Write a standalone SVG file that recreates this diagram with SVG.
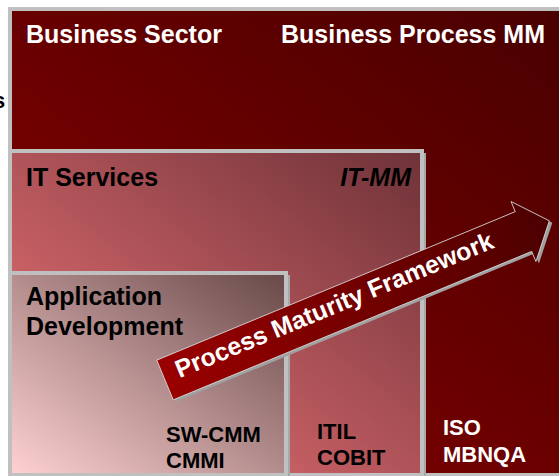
<svg xmlns="http://www.w3.org/2000/svg" width="559" height="476" viewBox="0 0 559 476">
  <defs>
    <linearGradient id="gOuter" x1="0" y1="1" x2="1" y2="0">
      <stop offset="0" stop-color="#8a0000"/>
      <stop offset="1" stop-color="#460000"/>
    </linearGradient>
    <linearGradient id="gIT" x1="0" y1="1" x2="1" y2="0">
      <stop offset="0" stop-color="#f2767a"/>
      <stop offset="1" stop-color="#6e3238"/>
    </linearGradient>
    <linearGradient id="gApp" x1="0" y1="1" x2="1" y2="0">
      <stop offset="0" stop-color="#ffd2d2"/>
      <stop offset="1" stop-color="#684848"/>
    </linearGradient>
    <linearGradient id="gArrow" x1="0" y1="0" x2="1" y2="0">
      <stop offset="0" stop-color="#9a0000"/>
      <stop offset="1" stop-color="#4c0000"/>
    </linearGradient>
    <style>
      .box { stroke: #c0c0c0; stroke-width: 4; }
      .shadow { fill: #a8a8a8; }
      .t { font-family: "Liberation Sans", Arial, sans-serif; font-weight: bold; }
      .h { font-size: 25px; }
      .s { font-size: 22px; }
      .w { fill: #ffffff; }
      .k { fill: #000000; }
    </style>
  </defs>

  <rect width="559" height="476" fill="#ffffff"/>

  <text class="t k" x="-7" y="108" font-size="22">s</text>

  <g id="business-sector">
    <rect class="box" x="10" y="9" width="600" height="466" fill="url(#gOuter)"/>
    <text class="t h w" x="26" y="43">Business Sector</text>
    <text class="t h w" x="281" y="43">Business Process MM</text>
    <text class="t s w" x="443" y="435">ISO</text>
    <text class="t s w" x="443" y="462">MBNQA</text>
  </g>

  <g id="it-services">
    <rect class="shadow" x="13" y="153" width="413" height="325"/>
    <rect class="box" x="10" y="151" width="412" height="324" fill="url(#gIT)"/>
    <text class="t h k" x="26" y="186">IT Services</text>
    <text class="t h k" x="411" y="186" text-anchor="end" font-style="italic">IT-MM</text>
    <text class="t s k" x="317" y="439">ITIL</text>
    <text class="t s k" x="317" y="465">COBIT</text>
  </g>

  <g id="application-development">
    <rect class="shadow" x="13" y="275" width="277" height="203"/>
    <rect class="box" x="10" y="273" width="276" height="202" fill="url(#gApp)"/>
    <text class="t h k" x="26" y="305">Application</text>
    <text class="t h k" x="26" y="335">Development</text>
    <text class="t s k" x="166" y="442">SW-CMM</text>
    <text class="t s k" x="166" y="468">CMMI</text>
  </g>

  <g id="process-maturity-framework" transform="translate(165,380) rotate(-22.5)">
    <polygon points="0,-21.5 388,-21.5 388,-32.5 416,0 388,32.5 388,21.5 0,21.5" fill="#a0a0a0" transform="translate(2,3)"/>
    <polygon points="0,-21.5 388,-21.5 388,-32.5 416,0 388,32.5 388,21.5 0,21.5" fill="url(#gArrow)" stroke="#d8d8d8" stroke-width="0.8"/>
    <text class="t h w" x="14" y="4">Process Maturity Framework</text>
  </g>
</svg>
